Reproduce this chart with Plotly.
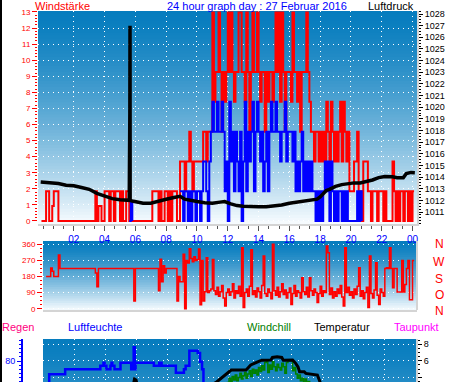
import plotly.graph_objects as go

W, H = 470, 382

# ---------------- data ----------------
hour_ticks = [2, 4, 6, 8, 10, 12, 14, 16, 18, 20, 22, 24]
hour_labels = ["02", "04", "06", "08", "10", "12", "14", "16", "18", "20", "22", "00"]

KNOT = 1.852  # wind read in knots, plotted in km/h

# wind gust (knots), every 0.1 h starting at -0.1 h
gust_t0 = -0.1
gust_kn = [0,
    0, 0, 1, 1, 0, 0, 0.5, 1, 1, 1,
    0, 0, 0, 0, 0, 0, 0, 0, 0, 0,
    0, 0, 0, 0, 0, 0, 0, 0, 0, 0,
    0, 0, 0, 0, 1, 0, 0.5, 0.5, 0, 0,
    1, 1, 1, 0, 1, 1, 0, 1, 1, 1,
    0, 1, 0, 0, 1, 1, 0, 0, 0, 0,
    0, 0, 0, 0, 0, 0, 0, 0, 0, 0,
    0, 1, 1, 1, 1, 0, 1, 0, 0, 1,
    1, 0, 1, 0, 1, 1, 1, 0, 0, 2,
    2, 2, 1, 2, 2, 3, 2, 1, 2, 2,
    2, 2, 2, 2, 3, 3, 2, 3, 3, 3,
    7, 4, 5, 5, 7, 5, 3, 5, 4, 5,
    7, 5, 7, 5, 4, 5, 5, 7, 7, 5,
    5, 4, 7, 5, 3, 5, 7, 5, 5, 7,
    5, 4, 5, 5, 3, 5, 4, 5, 5, 4,
    5, 7, 5, 7, 4, 7, 5, 3, 5, 5,
    5, 4, 7, 5, 5, 4, 5, 3, 5, 5,
    5, 7, 5, 4, 3, 3, 2, 3, 3, 2,
    3, 2, 3, 2, 4, 3, 2, 4, 3, 2,
    3, 2, 3, 4, 2, 4, 3, 2, 3, 1,
    1, 1, 2, 2, 3, 1, 1, 0, 2, 2,
    2, 1, 1, 0, 1, 1, 1, 0, 1, 1,
    1, 0, 1, 0, 0, 0, 0, 2, 1, 0,
    1, 0, 1, 1, 0, 1, 1, 0, 1, 0,
    1, 1]

# average wind (knots), two stretches
avg_a_t0 = 5.6
avg_a_kn = [0, 0.6, 0]
avg_b_t0 = 8.9
avg_b_kn = [1,
    1, 0, 1, 1, 0, 1, 0, 1, 1, 0,
    1, 1, 0, 1, 2, 2, 1, 0, 2, 3,
    4, 3, 3, 4, 3, 3, 4, 3, 1, 2,
    0, 4, 2, 3, 1, 3, 2, 1, 3, 0,
    2, 4, 1, 3, 2, 3, 4, 1, 3, 4,
    3, 2, 3, 1, 2, 3, 1, 3, 4, 3,
    3, 4, 3, 3, 2, 3, 3, 4, 2, 3,
    3, 3, 2, 3, 1, 2, 1, 2, 3, 1,
    2, 1, 2, 1, 2, 1, 1, 0, 1, 0,
    1, 0, 1, 2, 1, 2, 0, 2, 1, 0,
    1, 0, 1, 1, 0, 1, 0, 1, 0, 0,
    0, 0, 0, 0, 1, 0, 1, 0]

# pressure (hPa)
press_t = [-0.15, 0.5, 1.0, 1.5, 2.0, 2.5, 3.0, 3.5, 4.0, 4.5, 5.0, 5.5, 5.6, 5.64, 5.65, 5.66,
           5.8, 6.0, 6.5, 7.0, 7.5, 8.0, 8.5, 8.9, 9.2, 9.5, 10.0, 10.5, 11.0, 11.5, 11.8, 12.2,
           12.6, 13.0, 13.5, 14.0, 14.5, 15.0, 15.5, 16.0, 16.5, 17.0, 17.5, 17.8, 18.0, 18.4,
           18.6, 19.0, 19.4, 19.8, 20.2, 20.6, 21.0, 21.4, 21.8, 22.2, 22.7, 23.0, 23.4, 23.6,
           23.9, 24.15]
press_v = [1013.58, 1013.5, 1013.45, 1013.3, 1013.25, 1013.1, 1012.95, 1012.6, 1012.35, 1012.15,
           1012.05, 1012.0, 1012.0, 1019.5, 1027.0, 1012.0, 1011.95, 1011.9, 1011.75, 1011.75,
           1011.95, 1012.1, 1012.25, 1012.35, 1012.1, 1012.0, 1011.9, 1011.8, 1011.75, 1011.85,
           1011.9, 1011.7, 1011.55, 1011.5, 1011.45, 1011.45, 1011.45, 1011.5, 1011.6, 1011.75,
           1011.85, 1011.95, 1012.08, 1012.1, 1012.3, 1012.85, 1012.95, 1013.2, 1013.35, 1013.45,
           1013.5, 1013.5, 1013.6, 1013.75, 1013.95, 1014.05, 1014.03, 1013.95, 1013.95, 1014.3,
           1014.4, 1014.38]

# wind direction (deg), every 0.1 h starting at 0.2 h
dir_t0 = 0.2
dir_deg = [180, 180, 180, 227, 210, 180, 180, 180,
    300, 225, 225, 225, 225, 225, 225, 225, 225, 225,
    225, 225, 225, 225, 225, 225, 225, 225, 225, 225,
    225, 225, 225, 225, 200, 123, 225, 225, 225, 225,
    225, 225, 225, 225, 225, 225, 225, 225, 225, 225,
    225, 225, 225, 225, 225, 225, 225, 225, 225, 43,
    225, 225, 225, 225, 225, 225, 225, 225, 225, 225,
    225, 225, 225, 225, 225, 100, 276, 150, 240, 200,
    225, 225, 225, 225, 225, 225, 225, 43, 180, 150,
    150, 304, 0, 270, 255, 335, 280, 262, 290, 270,
    275, 334, 22, 270, 43, 95, 285, 90, 100, 110,
    275, 100, 80, 120, 70, 95, 130, 60, 15, 90,
    110, 75, 95, 140, 60, 100, 85, 125, 70, 340,
    6, 90, 110, 70, 125, 330, 80, 100, 65, 115,
    95, 60, 130, 295, 85, 70, 110, 90, 55, 360,
    100, 75, 120, 65, 95, 140, 80, 105, 60, 90,
    115, 24, 85, 130, 70, 100, 90, 60, 173, 95,
    80, 120, 65, 173, 100, 75, 110, 90, 34, 85,
    125, 70, 100, 90, 350, 313, 80, 115, 60, 95,
    70, 110, 85, 130, 65, 15, 341, 90, 120, 75,
    95, 60, 110, 80, 125, 229, 70, 100, 55, 90,
    120, 6, 295, 85, 60, 105, 257, 75, 24, 110,
    90, 70, 225, 229, 225, 341, 225, 117, 225, 225,
    93, 93, 93, 270, 93, 135, 225, 270, 50, 50,
    270, 270]

# humidity (%)
hum_t = [0.2, 0.4, 1.43, 3.7, 3.9, 3.97, 4.09, 4.35, 4.42, 4.47, 4.61, 5.0, 5.69, 5.85, 5.92,
         5.97, 7.15, 7.5, 7.65, 8.57, 9.09, 9.2, 9.44, 9.98, 10.13, 10.26, 10.35, 10.5, 12.0,
         16.0, 20.0, 24.0]
hum_v = [66, 72, 75, 77.2, 79, 77.2, 75, 77.2, 79, 77.2, 75, 79, 75, 88.2, 75,
         79, 77.2, 79, 77.2, 73, 75, 77.2, 86.2, 84.8, 79.6, 75, 62, 55, 50,
         48, 55, 60]

# temperature (deg C)
temp_t = [0.2, 3.0, 5.8, 5.9, 6.0, 6.1, 8.0, 10.5, 11.2, 11.5, 11.95, 12.14, 13.1, 13.4, 13.85,
          14.1, 14.7, 14.8, 15.1, 15.4, 15.5, 16.1, 16.3, 16.45, 16.55, 16.85, 16.95, 17.7,
          17.9, 18.5, 20.0, 22.0, 24.1]
temp_v = [2.6, 2.4, 2.8, 3.8, 3.7, 2.9, 2.6, 2.7, 3.45, 3.93, 4.68, 4.89, 4.89, 5.5, 5.88,
          6.08, 6.1, 6.41, 6.5, 6.41, 6.08, 6.1, 5.7, 5.28, 4.68, 4.68, 4.49, 4.29,
          3.3, 2.8, 2.5, 2.3, 2.2]

# windchill (deg C), every 0.1 h starting at 11.8 h
chill_t0 = 11.8
chill_v = [3.2, 3.4,
    3.9, 3.5, 4.1, 3.7, 4.3, 3.6, 4.0, 4.5, 3.8, 4.2,
    4.6, 3.9, 4.4, 4.8, 4.1, 5.0, 4.5, 4.9, 4.3, 5.2,
    4.7, 5.4, 4.9, 5.8, 6.0, 4.6, 5.5, 5.0, 5.9, 5.3,
    4.8, 5.6, 5.2, 4.9, 5.7, 5.3, 4.5, 5.8, 6.0, 6.1,
    6.0, 4.8, 5.2, 4.4, 3.9, 4.3, 3.6, 3.9, 3.4, 3.8,
    3.3, 3.5, 3.1]


def series_times(t0, n):
    return [round(t0 + 0.1 * i, 2) for i in range(n)]


gust_x = series_times(gust_t0, len(gust_kn))
gust_y = [v * KNOT for v in gust_kn]
avg_x = series_times(avg_a_t0, len(avg_a_kn)) + [None] + series_times(avg_b_t0, len(avg_b_kn))
avg_y = [v * KNOT for v in avg_a_kn] + [None] + [v * KNOT for v in avg_b_kn]
dir_x = series_times(dir_t0, len(dir_deg))
chill_x = series_times(chill_t0, len(chill_v))

# ---------------- figure ----------------
FONT = "Liberation Sans, Arial, sans-serif"
DOT = "1px,4px"


def px_x(p):
    return p / W


def px_y(p):
    return 1 - p / H


fig = go.Figure()

fig.add_trace(go.Scatter(x=gust_x, y=gust_y, mode="lines", line=dict(color="#ff0000", width=2, shape="hv"),
                         xaxis="x", yaxis="y", hoverinfo="skip"))
fig.add_trace(go.Scatter(x=avg_x, y=avg_y, mode="lines", line=dict(color="#0000ff", width=2, shape="hv"),
                         xaxis="x", yaxis="y", hoverinfo="skip", connectgaps=False))
fig.add_trace(go.Scatter(x=press_t, y=press_v, mode="lines", line=dict(color="#000000", width=3.5),
                         xaxis="x", yaxis="y2", hoverinfo="skip"))
fig.add_trace(go.Scatter(x=dir_x, y=dir_deg, mode="lines", line=dict(color="#ff0000", width=1.5, shape="hv"),
                         xaxis="x2", yaxis="y3", hoverinfo="skip"))
fig.add_trace(go.Scatter(x=chill_x, y=chill_v, mode="lines", line=dict(color="#008000", width=1.5, shape="hv"),
                         xaxis="x3", yaxis="y4", hoverinfo="skip"))
fig.add_trace(go.Scatter(x=temp_t, y=temp_v, mode="lines", line=dict(color="#000000", width=3),
                         xaxis="x3", yaxis="y4", hoverinfo="skip"))
fig.add_trace(go.Scatter(x=hum_t, y=hum_v, mode="lines", line=dict(color="#0000ff", width=2.5, shape="hv"),
                         xaxis="x3", yaxis="y5", hoverinfo="skip"))

# gradient backgrounds
TOP = (6, 124, 190)
BOT = (248, 252, 255)
shapes = []


def gradient(xref, yref, n, t_end):
    out = []
    for i in range(n):
        t = ((i + 0.5) / n * t_end) ** 1.4
        c = tuple(int(round(TOP[k] + (BOT[k] - TOP[k]) * t)) for k in range(3))
        out.append(dict(type="rect", xref=xref, yref=yref, x0=0, x1=1,
                        y0=max(0, 1 - (i + 1.6) / n), y1=1 - i / n,
                        fillcolor="rgb(%d,%d,%d)" % c, line=dict(width=0), layer="below"))
    return out


shapes += gradient("x domain", "y domain", 70, 1.0)
shapes += gradient("x2 domain", "y3 domain", 30, 1.0)
shapes += gradient("x3 domain", "y4 domain", 20, 0.22)
shapes.append(dict(type="rect", xref="paper", yref="paper", x0=0, x1=2 / W, y0=0, y1=1,
                   fillcolor="black", line=dict(width=0)))
shapes.append(dict(type="line", xref="x2 domain", yref="y3 domain", x0=1, x1=1, y0=0, y1=1,
                   line=dict(color="#d4d4d4", width=2)))

ann = []


def label(text, x, y, color, size=11, anchor="left"):
    ann.append(dict(text=text, x=px_x(x), y=px_y(y), xref="paper", yref="paper", xanchor=anchor,
                    yanchor="middle", showarrow=False, font=dict(family=FONT, size=size, color=color)))


label("Windstärke", 33, 6, "#ff0000", 11)
label("24 hour graph day : 27 Februar 2016", 257, 6, "#0000ff", 11, "center")
label("Luftdruck", 416, 6, "#000000", 11, "right")
for txt, yy in zip(["N", "W", "S", "O", "N"], [244, 262, 279, 295, 311]):
    label(txt, 439, yy, "#ff0000", 12, "center")
label("Regen", 0, 327, "#ff0080", 11)
label("Luftfeuchte", 66, 327, "#0000ff", 11)
label("Windchill", 245, 327, "#008000", 11)
label("Temperatur", 312, 327, "#000000", 11)
label("Taupunkt", 392, 327, "#ff00ff", 11)

common_grid = dict(showgrid=True, gridcolor="white", griddash=DOT, gridwidth=1, zeroline=False, automargin=False)

fig.update_layout(
    width=W, height=H, margin=dict(l=0, r=0, t=0, b=0),
    paper_bgcolor="white", plot_bgcolor="white", showlegend=False,
    font=dict(family=FONT),
    shapes=shapes, annotations=ann,
    xaxis=dict(domain=[px_x(38), px_x(417)], range=[-0.325, 24.29], anchor="y",
               tickmode="array", tickvals=hour_ticks, ticktext=hour_labels,
               tickfont=dict(color="#0000ff", size=10), ticks="outside", ticklen=5, tickcolor="#555",
               minor=dict(dtick=2 / 3, tick0=0, ticks="outside", ticklen=3, tickcolor="#555", showgrid=False),
               showline=True, linecolor="#d4d4d4", linewidth=2, **common_grid),
    yaxis=dict(domain=[px_y(224), px_y(11)], range=[-0.19, 13.06], anchor="x",
               tickmode="array", tickvals=list(range(14)),
               tickfont=dict(color="#ff0000", size=8), ticks="outside", ticklen=5, tickcolor="#ff0000",
               minor=dict(dtick=0.2, tick0=0, ticks="outside", ticklen=2, tickcolor="#ff0000", showgrid=False),
               **common_grid),
    yaxis2=dict(overlaying="y", side="right", anchor="x", range=[1009.97, 1028.26],
                tickmode="array", tickvals=list(range(1011, 1029)),
                tickfont=dict(color="#000000", size=9), ticks="outside", ticklen=4, tickcolor="#000",
                minor=dict(dtick=0.25, tick0=1011, ticks="outside", ticklen=2, tickcolor="#000", showgrid=False),
                showgrid=False, zeroline=False, showline=True, linecolor="#d4d4d4", linewidth=2,
                automargin=False),
    xaxis2=dict(domain=[px_x(43), px_x(417)], range=[0, 24.29], anchor="y3", showticklabels=False,
                ticks="", showgrid=False, zeroline=False, showline=True, linecolor="#d4d4d4", linewidth=2,
                automargin=False),
    yaxis3=dict(domain=[px_y(310), px_y(241)], range=[-7.3, 378.4], anchor="x2",
                tickmode="array", tickvals=[0, 90, 180, 270, 360],
                tickfont=dict(color="#ff0000", size=8), ticks="outside", ticklen=5, tickcolor="#ff0000",
                minor=dict(dtick=22.5, tick0=0, ticks="outside", ticklen=2, tickcolor="#ff0000", showgrid=False),
                **common_grid),
    xaxis3=dict(domain=[px_x(43), px_x(416)], range=[0, 24.06], anchor="y4", showticklabels=False,
                ticks="", tickmode="array", tickvals=hour_ticks, **common_grid),
    yaxis4=dict(domain=[0, px_y(339)], range=[3.45, 8.63], anchor="x3", side="right",
                tickmode="array", tickvals=[4, 6, 8],
                tickfont=dict(color="#000000", size=9), ticks="outside", ticklen=4, tickcolor="#000",
                minor=dict(dtick=0.5, tick0=0, ticks="outside", ticklen=2, tickcolor="#000", showgrid=False),
                showline=True, linecolor="#d4d4d4", linewidth=2, **common_grid),
    yaxis5=dict(overlaying="y4", anchor="free", position=px_x(22), side="left", range=[67.4, 93.2],
                tickmode="array", tickvals=[80],
                tickfont=dict(color="#0000ff", size=9), ticks="outside", ticklen=4, tickcolor="#0000ff",
                minor=dict(dtick=2.5, tick0=0, ticks="outside", ticklen=2, tickcolor="#0000ff", showgrid=False),
                showgrid=False, zeroline=False, showline=True, linecolor="#0000ff", linewidth=2,
                automargin=False),
)

fig.write_html("out.html", include_plotlyjs=True, config={"displayModeBar": False},
               post_script="document.body.style.margin='0';")
